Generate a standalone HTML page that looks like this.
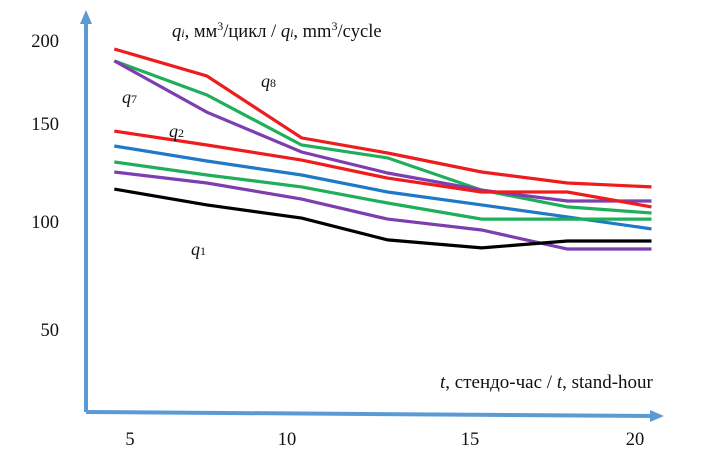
<!DOCTYPE html>
<html><head><meta charset="utf-8"><style>
body{margin:0;background:#fff}
svg text{font-family:"Liberation Serif",serif;fill:#111}
</style></head><body>
<svg width="709" height="454" xmlns="http://www.w3.org/2000/svg" id="c">
<g id="axes">
<line x1="86" y1="412" x2="86" y2="22" stroke="#5b9bd5" stroke-width="4"/>
<polygon points="86,10 80,24 92,24" fill="#5b9bd5"/>
<line x1="86" y1="412" x2="652" y2="416" stroke="#5b9bd5" stroke-width="4"/>
<polygon points="664,416 650,410 650,422" fill="#5b9bd5"/>
</g>
<g id="ticks"></g>
<g id="series"></g>
<text x="172" y="37" font-size="18.5"><tspan font-style="italic">q</tspan><tspan font-size="12" font-style="italic">i</tspan>, мм<tspan font-size="12" dy="-7">3</tspan><tspan dy="7">/цикл / </tspan><tspan font-style="italic">q</tspan><tspan font-size="12" font-style="italic">i</tspan>, mm<tspan font-size="12" dy="-7">3</tspan><tspan dy="7">/cycle</tspan></text>
<text x="440" y="388" font-size="19"><tspan font-style="italic">t</tspan>, стендо-час / <tspan font-style="italic">t</tspan>, stand-hour</text>
<text x="261" y="87" font-size="18" font-style="italic">q<tspan font-size="12" font-style="normal">8</tspan></text>
<text x="122" y="103" font-size="18" font-style="italic">q<tspan font-size="12" font-style="normal">7</tspan></text>
<text x="169" y="137" font-size="18" font-style="italic">q<tspan font-size="12" font-style="normal">2</tspan></text>
<text x="191" y="255" font-size="18" font-style="italic">q<tspan font-size="12" font-style="normal">1</tspan></text>
</svg>
<script>
const xValues=[4.5,7.45,10.4,12.75,15.35,17.95,20.5];
const yTicks=[50,100,150,200];
const xTicks=[5,10,15,20];
const q8=[195.2,178.9,142.9,135.2,125.5,119.9,117.9];
const q7green=[188,167.5,139.3,132.7,116.3,107.7,104.6];
const q7purple=[188,157.1,135.7,125,116.3,110.7,110.7];
const q2=[146.4,139.3,131.6,122.4,115.3,115.3,107.7];
const qBlue=[138.8,131.1,124,115.3,108.7,102.6,96.8];
const qGreen2=[130.6,124,117.9,109.7,101.5,101.5,101.5];
const qPurple2=[125.5,119.9,111.7,101.5,96.3,87.5,87.5];
const q1=[116.8,108.7,102,91.7,88,91.2,91.2];
const seriesList=[[q8,'#ee1c1c','series-q8'],[q7green,'#1fae5a','series-green-upper'],[q7purple,'#7d3fb0','series-q7'],[q2,'#ee1c1c','series-q2'],[qBlue,'#1f78c8','series-blue'],[qGreen2,'#1fae5a','series-green-lower'],[qPurple2,'#7d3fb0','series-purple-lower'],[q1,'#000','series-q1']];
function pw(v,ks,ps){let i=0;while(i<ks.length-2&&v>ks[i+1])i++;return ps[i]+(v-ks[i])*(ps[i+1]-ps[i])/(ks[i+1]-ks[i]);}
function xs(v){return pw(v,[5,10,15,20],[130,287,470,635]);}
function ys(v){return pw(v,[50,100,150,200],[330,222,124,41]);}
const NS='http://www.w3.org/2000/svg';
const tg=document.getElementById('ticks');
yTicks.forEach(t=>{const e=document.createElementNS(NS,'text');e.setAttribute('x',59);e.setAttribute('y',ys(t)+6);e.setAttribute('text-anchor','end');e.setAttribute('font-size','18.5');e.textContent=t;


tg.appendChild(e);});
xTicks.forEach(t=>{const e=document.createElementNS(NS,'text');e.setAttribute('x',xs(t));e.setAttribute('y',445);e.setAttribute('text-anchor','middle');e.setAttribute('font-size','18.5');e.textContent=t;


tg.appendChild(e);});
const sg=document.getElementById('series');
seriesList.forEach(s=>{const p=document.createElementNS(NS,'polyline');p.setAttribute('points',s[0].map((v,i)=>xs(xValues[i]).toFixed(1)+','+ys(v).toFixed(1)).join(' '));p.setAttribute('fill','none');p.setAttribute('stroke',s[1]);p.setAttribute('stroke-width','3.2');


sg.appendChild(p);});
</script>
</body></html>
